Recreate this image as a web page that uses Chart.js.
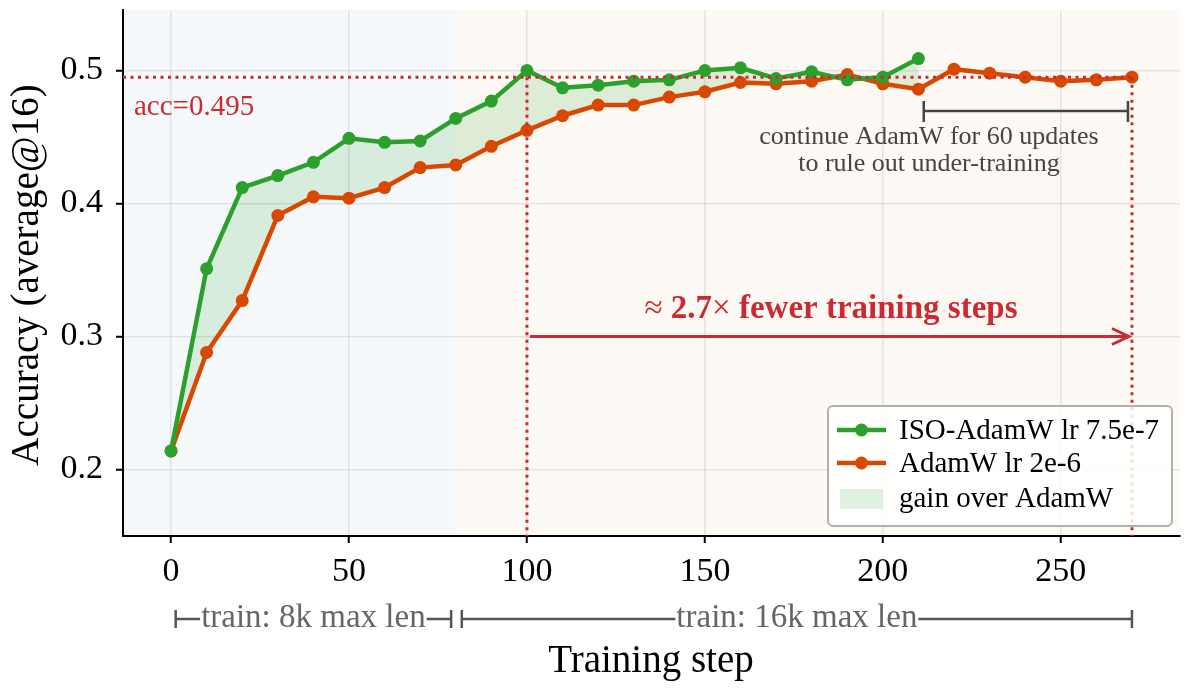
<!DOCTYPE html>
<html>
<head>
<meta charset="utf-8">
<script src="https://cdn.jsdelivr.net/npm/chart.js@4.4.1/dist/chart.umd.min.js"></script>
<style>
  html, body { margin: 0; padding: 0; background: #fff; }
  #wrap { width: 1192px; height: 694px; }
</style>
</head>
<body>
<div id="wrap"><canvas id="grafico"></canvas></div>
<script>
// dados
const passos = [0, 10, 20, 30, 40, 50, 60, 70, 80, 90, 100, 110, 120, 130, 140, 150, 160, 170, 180, 190, 200, 210, 220, 230, 240, 250, 260, 270];
const isoAdamw = [0.214, 0.351, 0.412, 0.421, 0.431, 0.449, 0.446, 0.447, 0.464, 0.477, 0.500, 0.487, 0.489, 0.492, 0.493, 0.500, 0.502, 0.494, 0.499, 0.493, 0.495, 0.509];
const adamw = [0.214, 0.288, 0.327, 0.391, 0.405, 0.404, 0.412, 0.427, 0.429, 0.443, 0.455, 0.466, 0.474, 0.474, 0.480, 0.484, 0.491, 0.490, 0.492, 0.497, 0.490, 0.486, 0.501, 0.498, 0.495, 0.492, 0.493, 0.495];
const xTicks = [0, 50, 100, 150, 200, 250];
const yTicks = [0.2, 0.3, 0.4, 0.5];
const accAlvo = 0.495;
const passoIso = 100;
const passoAdamw = 270;
const fimFase8k = 80;
const nomes = ['ISO-AdamW lr 7.5e-7', 'AdamW lr 2e-6', 'gain over AdamW'];

const VERDE = '#2ca02c';
const LARANJA = '#d94801';
const VERMELHO = '#cc2a30';
const SERIF = '"Liberation Serif", "Times New Roman", serif';

const pts = (ys) => ys.map((y, i) => ({ x: passos[i], y }));

const anotacoes = {
  id: 'anotacoes',
  beforeDraw(chart) {
    const { ctx, chartArea: a, scales: { x } } = chart;
    ctx.save();
    const xm = x.getPixelForValue(fimFase8k);
    ctx.fillStyle = '#f5f9fc';
    ctx.fillRect(a.left, a.top, xm - a.left, a.bottom - a.top);
    ctx.fillStyle = '#fdfaf5';
    ctx.fillRect(xm, a.top, a.right - xm, a.bottom - a.top);
    ctx.restore();
  },
  afterDatasetsDraw(chart) {
    const { ctx, chartArea: a, scales: { x, y } } = chart;
    const px = v => x.getPixelForValue(v);
    const py = v => y.getPixelForValue(v);
    ctx.save();
    // linhas pontilhadas
    ctx.strokeStyle = VERMELHO;
    ctx.lineWidth = 3;
    ctx.setLineDash([3, 4.5]);
    ctx.beginPath();
    ctx.moveTo(a.left, py(accAlvo));
    ctx.lineTo(px(passoAdamw), py(accAlvo));
    ctx.moveTo(px(passoIso), py(accAlvo));
    ctx.lineTo(px(passoIso), a.bottom);
    ctx.moveTo(px(passoAdamw), py(accAlvo));
    ctx.lineTo(px(passoAdamw), a.bottom);
    ctx.stroke();
    ctx.setLineDash([]);

    ctx.fillStyle = VERMELHO;
    ctx.font = '29px ' + SERIF;
    ctx.textAlign = 'left';
    ctx.textBaseline = 'alphabetic';
    ctx.fillText('acc=0.495', a.left + 11, py(accAlvo) + 38);

    // seta
    const ya = py(0.30);
    const x0 = px(passoIso) + 3, x1 = px(passoAdamw) - 3;
    ctx.lineWidth = 3;
    ctx.beginPath();
    ctx.moveTo(x0, ya);
    ctx.lineTo(x1, ya);
    ctx.moveTo(x1 - 17, ya - 8);
    ctx.lineTo(x1, ya);
    ctx.lineTo(x1 - 17, ya + 8);
    ctx.stroke();
    // texto com símbolos em peso normal
    const partes = [['\u2248 ', ''], ['2.7', 'bold '], ['\u00d7', ''], [' fewer training steps', 'bold ']];
    let total = 0;
    partes.forEach(p => { ctx.font = p[1] + '33px ' + SERIF; total += ctx.measureText(p[0]).width; });
    let cx = 831 - total / 2;
    ctx.textAlign = 'left';
    partes.forEach(p => {
      ctx.font = p[1] + '33px ' + SERIF;
      ctx.fillText(p[0], cx, ya - 19);
      cx += ctx.measureText(p[0]).width;
    });

    // colchete "continue AdamW"
    const yb = 111;
    const b0 = px(211.5), b1 = px(passoAdamw) - 4;
    ctx.strokeStyle = '#444';
    ctx.fillStyle = '#444';
    ctx.lineWidth = 2.5;
    ctx.beginPath();
    ctx.moveTo(b0, yb); ctx.lineTo(b1, yb);
    ctx.moveTo(b0, yb - 10); ctx.lineTo(b0, yb + 11);
    ctx.moveTo(b1, yb - 10); ctx.lineTo(b1, yb + 11);
    ctx.stroke();
    ctx.font = '26px ' + SERIF;
    ctx.textAlign = 'center';
    ctx.fillText('continue AdamW for 60 updates', 929, 144);
    ctx.fillText('to rule out under-training', 929, 171);
    ctx.restore();
  },
  afterDraw(chart) {
    const { ctx, scales: { x } } = chart;
    const px = v => x.getPixelForValue(v);
    ctx.save();
    // títulos dos eixos
    ctx.fillStyle = '#000';
    ctx.font = '39px ' + SERIF;
    ctx.textAlign = 'center';
    ctx.textBaseline = 'middle';
    ctx.fillText('Training step', 651, 662);
    ctx.save();
    ctx.translate(28, 275);
    ctx.rotate(-Math.PI / 2);
    ctx.fillText('Accuracy (average@16)', 0, 0);
    ctx.restore();

    // fases de treino
    const faixa = (v0, v1, texto) => {
      const yb = 619;
      const p0 = px(v0), p1 = px(v1);
      const c = (p0 + p1) / 2;
      ctx.font = '33px ' + SERIF;
      const w = ctx.measureText(texto).width;
      ctx.strokeStyle = '#555';
      ctx.lineWidth = 2.5;
      ctx.beginPath();
      ctx.moveTo(p0, yb); ctx.lineTo(c - w / 2 - 1, yb);
      ctx.moveTo(c + w / 2 + 1, yb); ctx.lineTo(p1, yb);
      ctx.moveTo(p0, yb - 9); ctx.lineTo(p0, yb + 9);
      ctx.moveTo(p1, yb - 9); ctx.lineTo(p1, yb + 9);
      ctx.stroke();
      ctx.fillStyle = '#666';
      ctx.textAlign = 'center';
      ctx.textBaseline = 'middle';
      ctx.fillText(texto, c, yb - 1);
    };
    faixa(1.3, 78.7, 'train: 8k max len');
    faixa(81.7, passoAdamw, 'train: 16k max len');

    // legenda
    const lx = 828, ly = 406, lw = 344, lh = 120;
    ctx.fillStyle = 'rgba(255,255,255,0.85)';
    ctx.strokeStyle = '#b0b0b0';
    ctx.lineWidth = 2;
    ctx.beginPath();
    ctx.roundRect(lx, ly, lw, lh, 5);
    ctx.fill();
    ctx.stroke();
    const linha = (yy, cor) => {
      ctx.strokeStyle = cor;
      ctx.lineWidth = 4.5;
      ctx.beginPath();
      ctx.moveTo(837, yy); ctx.lineTo(886, yy);
      ctx.stroke();
      ctx.fillStyle = cor;
      ctx.beginPath();
      ctx.arc(861.5, yy, 6.5, 0, Math.PI * 2);
      ctx.fill();
    };
    linha(430, VERDE);
    linha(463, LARANJA);
    ctx.fillStyle = 'rgba(44,160,44,0.15)';
    ctx.fillRect(840, 489, 43, 20);
    ctx.fillStyle = '#000';
    ctx.font = '29px ' + SERIF;
    ctx.textAlign = 'left';
    ctx.textBaseline = 'middle';
    ctx.fillText(nomes[0], 899, 431);
    ctx.fillText(nomes[1], 899, 464);
    ctx.fillText(nomes[2], 899, 499);
    ctx.restore();
  }
};

new Chart(document.getElementById('grafico'), {
  type: 'line',
  data: {
    datasets: [
      {
        label: nomes[0],
        data: pts(isoAdamw),
        borderColor: VERDE,
        backgroundColor: 'rgba(44,160,44,0.15)',
        pointBackgroundColor: VERDE,
        pointBorderWidth: 0,
        pointRadius: 6.5,
        borderWidth: 4.5,
        fill: 2
      },
      {
        label: nomes[1],
        data: pts(adamw),
        borderColor: LARANJA,
        pointBackgroundColor: LARANJA,
        pointBorderWidth: 0,
        pointRadius: 6.5,
        borderWidth: 4.5,
        fill: false
      },
      {
        label: 'base',
        data: pts(adamw.slice(0, isoAdamw.length)),
        borderColor: 'rgba(0,0,0,0)',
        borderWidth: 0,
        pointRadius: 0,
        fill: false
      }
    ]
  },
  options: {
    responsive: true,
    maintainAspectRatio: false,
    animation: false,
    layout: { padding: { top: 10, right: 12, left: 0, bottom: 0 } },
    plugins: {
      legend: { display: false },
      tooltip: { enabled: false },
      filler: { drawTime: 'beforeDatasetsDraw' }
    },
    scales: {
      x: {
        type: 'linear',
        min: -13.5,
        max: 283.5,
        afterBuildTicks: s => { s.ticks = xTicks.map(v => ({ value: v })); },
        afterFit: s => { s.height = 158; s.paddingLeft = 0; s.paddingRight = 0; },
        ticks: { color: '#000', font: { family: SERIF, size: 34 }, padding: 9, maxRotation: 0 },
        grid: { color: 'rgba(0,0,0,0.09)', lineWidth: 1.5, tickColor: '#000', tickLength: 7, tickWidth: 2 },
        border: { color: '#000', width: 2 }
      },
      y: {
        min: 0.15,
        max: 0.5455,
        afterBuildTicks: s => { s.ticks = yTicks.map(v => ({ value: v })); },
        afterFit: s => { s.width = 123; s.paddingTop = 0; s.paddingBottom = 0; },
        ticks: { color: '#000', font: { family: SERIF, size: 34 }, padding: 13, callback: v => v.toFixed(1) },
        grid: { color: 'rgba(0,0,0,0.09)', lineWidth: 1.5, tickColor: '#000', tickLength: 7, tickWidth: 2 },
        border: { color: '#000', width: 2 }
      }
    }
  },
  plugins: [anotacoes]
});
</script>
</body>
</html>
